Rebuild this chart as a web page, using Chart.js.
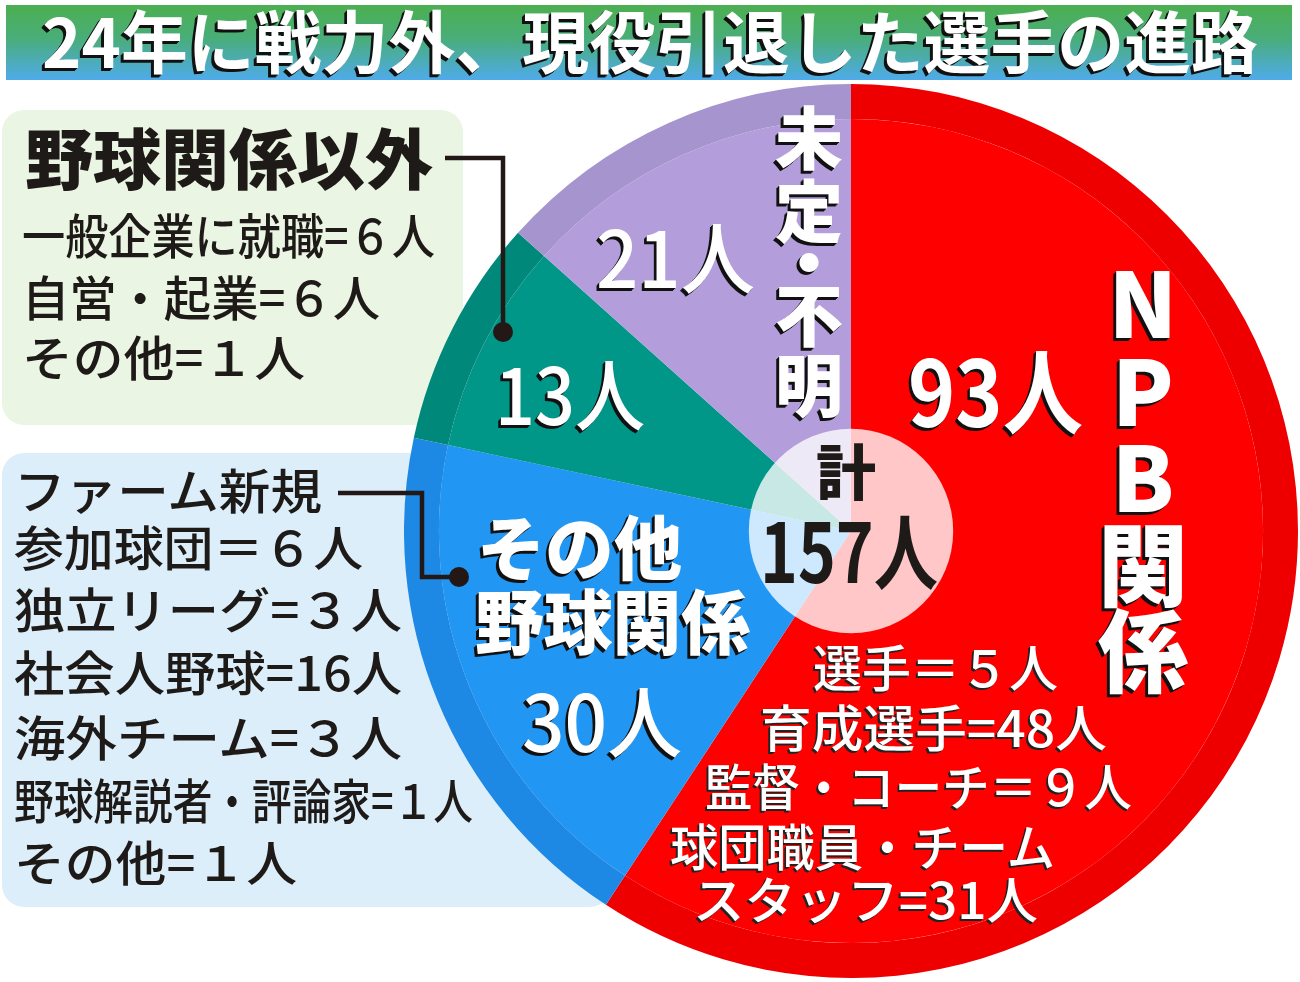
<!DOCTYPE html>
<html lang="ja">
<head>
<meta charset="utf-8">
<script src="https://cdn.jsdelivr.net/npm/chart.js@4.4.1/dist/chart.umd.min.js"></script>
<style>
  html,body{margin:0;padding:0;background:#fff;}
  body{width:1300px;height:982px;position:relative;overflow:hidden;font-family:"Noto Sans CJK JP","Noto Sans",sans-serif;}
  .abs{position:absolute;}
  .t{position:absolute;white-space:nowrap;line-height:1;transform-origin:0 0;}
  .w{color:#fff;}
  .sh3{text-shadow:-3px 3px 0 #111,-2px 2px 0 #111,-1px 1px 0 #111;}
  .sh2{text-shadow:-2px 2px 0 #222,-1px 1px 0 #222;}
  .k{color:#1d1a18;}
</style>
</head>
<body>
<div class="abs" id="titlebar" style="left:6px;top:5px;width:1286px;height:75px;background:linear-gradient(#4caf50 0%,#49ad7a 45%,#4fabea 100%);"></div>
<div class="abs" style="left:2px;top:110px;width:461px;height:315px;background:#ebf5e3;border-radius:22px;"></div>
<div class="abs" style="left:2px;top:453px;width:610px;height:454px;background:#ddeefb;border-radius:22px;"></div>
<div class="abs" style="left:404px;top:84px;width:894px;height:894px;">
  <canvas id="pie" width="894" height="894"></canvas>
</div>
<svg class="abs" style="left:0;top:0;" width="1300" height="982">
  <polyline points="445,158 503,158 503,332" fill="none" stroke="#231815" stroke-width="4.5"/>
  <circle cx="503" cy="332" r="10" fill="#231815"/>
  <polyline points="338,493 422,493 422,577 458,577" fill="none" stroke="#231815" stroke-width="4.5"/>
  <circle cx="459" cy="577" r="10" fill="#231815"/>
</svg>
<div id="labels"></div>
<script>
// ---- data ----
const categories = ['NPB関係', 'その他野球関係', '野球関係以外', '未定・不明'];
const values = [93, 30, 13, 21];
const titleText = '24年に戦力外、現役引退した選手の進路';
const otherNonBaseball = ['一般企業に就職=６人', '自営・起業=６人', 'その他=１人'];
const otherBaseball = ['ファーム新規', '参加球団＝６人', '独立リーグ=３人', '社会人野球=16人', '海外チーム=３人', '野球解説者・評論家=１人', 'その他=１人'];
const npbItems = ['選手＝５人', '育成選手=48人', '監督・コーチ＝９人', '球団職員・チーム', 'スタッフ=31人'];

// ---- styles ----
const mainColors = ['#ff0000', '#2196f3', '#009688', '#b39ddb'];
const ringColors = ['#ee0000', '#1e88e5', '#00897b', '#a694ce'];

const total = values.reduce((a, b) => a + b, 0);

const centerDisc = {
  id: 'centerDisc',
  afterDatasetsDraw(chart) {
    const arc = chart.getDatasetMeta(1).data[0];
    const ctx = chart.ctx;
    ctx.save();
    ctx.beginPath();
    ctx.arc(arc.x, arc.y, arc.outerRadius * 0.248, 0, Math.PI * 2);
    ctx.fillStyle = 'rgba(255,255,255,0.78)';
    ctx.fill();
    ctx.restore();
  }
};

new Chart(document.getElementById('pie'), {
  type: 'doughnut',
  data: {
    labels: categories,
    datasets: [
      { data: values, backgroundColor: ringColors, borderWidth: 0, weight: 1 },
      { data: values, backgroundColor: mainColors, borderWidth: 0, weight: 11.8 }
    ]
  },
  options: {
    responsive: false,
    animation: false,
    devicePixelRatio: 1,
    cutout: 0,
    layout: { padding: 0 },
    plugins: { legend: { display: false }, tooltip: { enabled: false }, title: { display: false } },
    events: []
  },
  plugins: [centerDisc]
});

// ---- text overlay ----
const holder = document.getElementById('labels');
const items = [];
function put(text, x, cy, size, width, cls, weight, extra) {
  const s = document.createElement('span');
  s.className = 't ' + (cls || '');
  s.textContent = text;
  s.style.fontSize = size + 'px';
  s.style.fontWeight = weight || 400;
  s.style.left = x + 'px';
  s.style.top = (cy - 0.55 * size) + 'px';
  if (extra) Object.assign(s.style, extra);
  holder.appendChild(s);
  items.push([s, width]);
  return s;
}
function putC(text, cx, cy, size, cls, weight) {
  const s = put(text, 0, cy, size, null, cls, weight);
  s.dataset.cx = cx;
  return s;
}

// title
put(titleText, 42, 42, 68, 1216, 'w sh3', 700);

// box 1
put(categories[2], 25, 158, 66, 408, 'k', 900);
const b1y = [235, 297, 357], b1w = [413, 358, 283];
otherNonBaseball.forEach((t, i) => put(t, 22, b1y[i], 48, b1w[i], 'k', 500));

// box 2
const b2y = [490, 547, 609, 672, 737, 800, 862], b2w = [308, 349, 388, 388, 388, 459, 283];
otherBaseball.forEach((t, i) => put(t, 14, b2y[i], 48, b2w[i], 'k', 500));

// slice labels
put(values[3] + '人', 596, 258, 78, 159, 'w sh3', 500);
put(values[2] + '人', 495, 395, 78, 150, 'w sh3', 500);
put(values[0] + '人', 908, 392, 92, 175, 'w sh3', 700);
put('その他', 477, 548, 70, 205, 'w sh3', 900);
put('野球関係', 475, 622, 70, 275, 'w sh3', 900);
put(values[1] + '人', 522, 722, 78, 160, 'w sh3', 500);

// vertical labels
const undecided = ['未', '定', '・', '不', '明'], undY = [138, 211, 263, 315, 385];
undecided.forEach((c, i) => putC(c, 809, undY[i], 68, 'w sh3', 900));
const npbV = ['N', 'P', 'B', '関', '係'], npbY = [303, 391, 477, 564, 650];
npbV.forEach((c, i) => putC(c, 1143, npbY[i], 90, 'w sh3', 900));

// center
putC('計', 846, 472, 60, 'k', 900);
put(total + '人', 760, 552, 82, 178, 'k', 700);

// npb breakdown
const nx = [813, 760, 705, 670, 693], ny = [667, 727, 786, 846, 899], nw = [245, 347, 427, 385, 345];
npbItems.forEach((t, i) => put(t, nx[i], ny[i], 50, nw[i], 'w sh2', 500));

function fit() {
  items.forEach(([s, w]) => {
    s.style.transform = 'none';
    const nat = s.getBoundingClientRect().width;
    if (w) {
      s.style.transform = 'scaleX(' + (w / nat) + ')';
    } else if (s.dataset.cx) {
      s.style.left = (parseFloat(s.dataset.cx) - nat / 2) + 'px';
    }
  });
}
fit();
if (document.fonts && document.fonts.ready) document.fonts.ready.then(fit);
</script>
</body>
</html>
